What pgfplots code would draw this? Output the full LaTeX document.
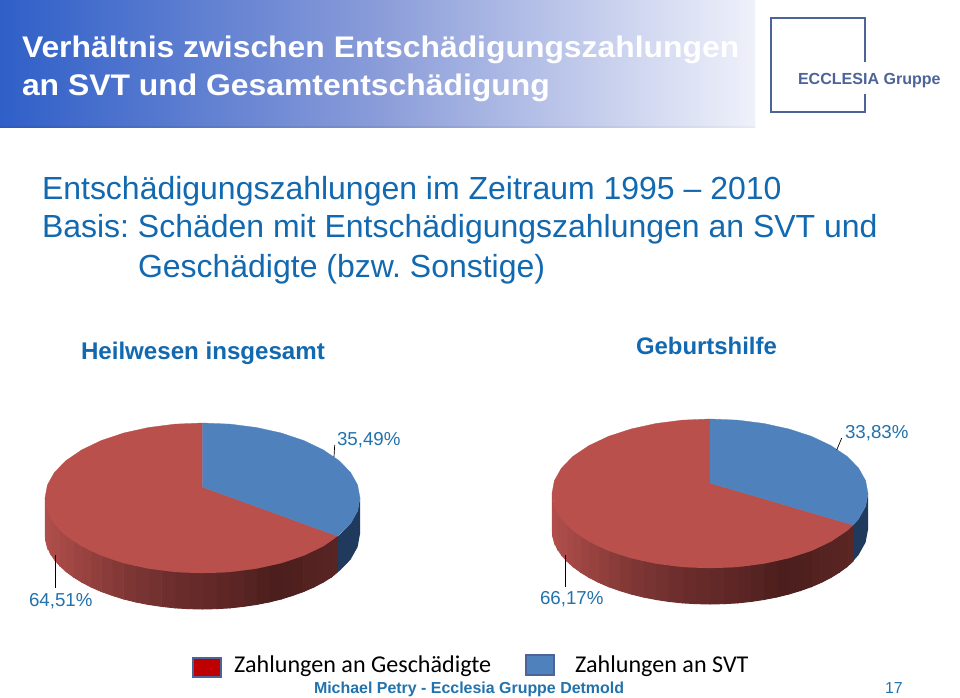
\documentclass[border=0pt]{standalone}
\usepackage{fontspec}
\setmainfont{Liberation Sans}
\newfontfamily\calibri{Carlito}
\newfontfamily\titlefont[FakeStretch=1.07]{Liberation Sans}
\usepackage{pgfplots}
\pgfplotsset{compat=1.18}
\frenchspacing

\definecolor{pieRed}{HTML}{B9504C}
\definecolor{pieBlue}{HTML}{4F81BD}
\definecolor{sideBlue}{HTML}{1F3A5C}
\definecolor{sideLight}{HTML}{B04E4B}
\definecolor{sideDark}{HTML}{4B1E1D}
\definecolor{bodyBlue}{HTML}{1269B0}
\definecolor{labelBlue}{HTML}{2272AD}
\definecolor{logoBlue}{HTML}{4D6499}
\definecolor{headLeft}{HTML}{2F5FC8}
\definecolor{headMid}{HTML}{8A9CD9}
\definecolor{headRight}{HTML}{EFF1FA}

% one vertical piece of a pie's side, 36 px deep
\newcommand{\strip}[5]{%
  \pgfmathsetmacro{\ya}{#2+36}\pgfmathsetmacro{\yb}{#4+36}%
  \addplot[fill=sideLight!#5!sideDark, draw=sideLight!#5!sideDark, line width=.9pt]
    coordinates {(#1,#2) (#3,#4) (#3,\yb) (#1,\ya)} --cycle;%
}
\newcommand{\fs}[1]{\fontsize{#1}{#1}\selectfont}

\begin{document}
\begin{tikzpicture}[every node/.style={inner sep=0pt, outer sep=0pt}]
\begin{axis}[
  width=960bp, height=697bp, scale only axis,
  xmin=0, xmax=960, ymin=0, ymax=697, y dir=reverse,
  hide axis, clip=false, no marks,
]
\addplot[fill=white, draw=none] coordinates {(0,0) (960,0) (960,697) (0,697)} --cycle;

% header band
\fill[left color=headLeft, right color=headRight, middle color=headMid]
  (axis cs:0,0) rectangle (axis cs:755,127);
\fill[left color=headLeft!93!black, right color=headRight!97!black, middle color=headMid!93!black]
  (axis cs:0,126) rectangle (axis cs:755,127.5);
\node[anchor=base west, text=white] at (axis cs:22,58)
  {\titlefont\fs{29.9}\bfseries Verhältnis zwischen Entschädigungszahlungen};
\node[anchor=base west, text=white] at (axis cs:22,96)
  {\titlefont\fs{29.9}\bfseries an SVT und Gesamtentschädigung};

% logo
\draw[logoBlue, line width=2.4pt]
  (axis cs:865,62) -- (axis cs:865,18) -- (axis cs:771,18) -- (axis cs:771,112)
  -- (axis cs:865,112) -- (axis cs:865,94);
\node[anchor=base west, text=logoBlue] at (axis cs:798,85)
  {\fs{16.1}\bfseries ECCLESIA Gruppe};

% body text
\node[anchor=base west, text=bodyBlue] at (axis cs:42,199)
  {\fs{32.1}Entschädigungszahlungen im Zeitraum 1995 – 2010};
\node[anchor=base west, text=bodyBlue] at (axis cs:42,237)
  {\fs{32.1}Basis: Schäden mit Entschädigungszahlungen an SVT und};
\node[anchor=base west, text=bodyBlue] at (axis cs:138,277)
  {\fs{32.1}Geschädigte (bzw. Sonstige)};

% pie titles
\node[anchor=base west, text=bodyBlue] at (axis cs:81,359)
  {\fs{24.2}\bfseries Heilwesen insgesamt};
\node[anchor=base west, text=bodyBlue] at (axis cs:636,354)
  {\fs{24}\bfseries Geburtshilfe};

% left pie: side
\addplot[fill=sideBlue, draw=none] coordinates {
  (360,498) (357.6,511) (350.5,523.7) (338.9,535.5) (337.5,536)
  (337.5,572) (338.9,571.5) (350.5,559.7) (357.6,547) (360,534)} --cycle;
\strip{337.5}{536}{331.5}{541}{14}
\strip{331.5}{541}{323.1}{546.2}{12}
\strip{323.1}{546.2}{313.9}{551}{10}
\strip{313.9}{551}{303.7}{555.5}{8}
\strip{303.7}{555.5}{292.8}{559.4}{5}
\strip{292.8}{559.4}{281.3}{563}{2}
\strip{281.3}{563}{269.1}{566}{1}
\strip{269.1}{566}{256.4}{568.5}{5}
\strip{256.4}{568.5}{243.3}{570.4}{10}
\strip{243.3}{570.4}{229.8}{571.9}{15}
\strip{229.8}{571.9}{216.2}{572.7}{19}
\strip{216.2}{572.7}{202.5}{573}{23}
\strip{202.5}{573}{188.8}{572.7}{27}
\strip{188.8}{572.7}{175.2}{571.9}{30}
\strip{175.2}{571.9}{161.7}{570.4}{34}
\strip{161.7}{570.4}{148.6}{568.5}{40}
\strip{148.6}{568.5}{135.9}{566}{45}
\strip{135.9}{566}{123.7}{563}{50}
\strip{123.7}{563}{112.2}{559.4}{56}
\strip{112.2}{559.4}{101.3}{555.5}{62}
\strip{101.3}{555.5}{91.1}{551}{68}
\strip{91.1}{551}{81.9}{546.2}{75}
\strip{81.9}{546.2}{73.5}{541}{80}
\strip{73.5}{541}{66.1}{535.5}{85}
\strip{66.1}{535.5}{59.8}{529.7}{90}
\strip{59.8}{529.7}{54.5}{523.7}{93}
\strip{54.5}{523.7}{50.4}{517.4}{96}
\strip{50.4}{517.4}{47.4}{511}{98}
\strip{47.4}{511}{45.6}{504.5}{100}
\strip{45.6}{504.5}{45.3}{498}{100}

% left pie: top, 64,51 / 35,49
\addplot[fill=pieRed, draw=pieRed, line width=.3pt] coordinates {
  (202.5,487) (202.5,423) (175.2,424.1) (148.6,427.5) (123.7,433) (101.3,440.5)
  (81.9,449.8) (66.1,460.5) (54.5,472.3) (47.4,485) (45,498) (47.4,511)
  (54.5,523.7) (66.1,535.5) (81.9,546.2) (101.3,555.5) (123.7,563) (148.6,568.5)
  (175.2,571.9) (202.5,573) (229.8,571.9) (256.4,568.5) (281.3,563) (303.7,555.5)
  (323.1,546.2) (337.5,536)} --cycle;
\addplot[fill=pieBlue, draw=pieBlue, line width=.3pt] coordinates {
  (202.5,487) (202.5,423) (229.8,424.1) (256.4,427.5) (281.3,433) (303.7,440.5)
  (323.1,449.8) (338.9,460.5) (350.5,472.3) (357.6,485) (360,498) (357.6,511)
  (350.5,523.7) (337.5,536)} --cycle;

% right pie: side
\addplot[fill=sideBlue, draw=none] coordinates {
  (868,493.5) (865.6,506.4) (858.5,519) (853.2,525)
  (853.2,561) (858.5,555) (865.6,542.4) (868,529.5)} --cycle;
\strip{853.2}{525}{846.8}{530.8}{16}
\strip{846.8}{530.8}{839.4}{536.2}{14}
\strip{839.4}{536.2}{831}{541.4}{12}
\strip{831}{541.4}{821.7}{546.2}{10}
\strip{821.7}{546.2}{811.6}{550.6}{8}
\strip{811.6}{550.6}{800.6}{554.5}{5}
\strip{800.6}{554.5}{789}{558}{2}
\strip{789}{558}{776.8}{561}{1}
\strip{776.8}{561}{764}{563.5}{5}
\strip{764}{563.5}{750.9}{565.5}{10}
\strip{750.9}{565.5}{737.4}{566.9}{15}
\strip{737.4}{566.9}{723.8}{567.7}{19}
\strip{723.8}{567.7}{710}{568}{23}
\strip{710}{568}{696.2}{567.7}{27}
\strip{696.2}{567.7}{682.6}{566.9}{30}
\strip{682.6}{566.9}{669.1}{565.5}{34}
\strip{669.1}{565.5}{656}{563.5}{40}
\strip{656}{563.5}{643.2}{561}{45}
\strip{643.2}{561}{631}{558}{50}
\strip{631}{558}{619.4}{554.5}{56}
\strip{619.4}{554.5}{608.4}{550.6}{62}
\strip{608.4}{550.6}{598.3}{546.2}{68}
\strip{598.3}{546.2}{589}{541.4}{75}
\strip{589}{541.4}{580.6}{536.2}{80}
\strip{580.6}{536.2}{573.2}{530.8}{85}
\strip{573.2}{530.8}{566.8}{525}{90}
\strip{566.8}{525}{561.5}{519}{93}
\strip{561.5}{519}{557.4}{512.8}{96}
\strip{557.4}{512.8}{554.4}{506.4}{98}
\strip{554.4}{506.4}{552.6}{500}{100}
\strip{552.6}{500}{552.3}{493.5}{100}

% right pie: top, 66,17 / 33,83
\addplot[fill=pieRed, draw=pieRed, line width=.3pt] coordinates {
  (710,483) (710,419) (682.6,420.1) (656,423.5) (631,429) (608.4,436.4)
  (589,445.6) (573.2,456.2) (561.5,468) (554.4,480.6) (552,493.5) (554.4,506.4)
  (561.5,519) (573.2,530.8) (589,541.4) (608.4,550.6) (631,558) (656,563.5)
  (682.6,566.9) (710,568) (737.4,566.9) (764,563.5) (789,558) (811.6,550.6)
  (831,541.4) (846.8,530.8) (853.2,525)} --cycle;
\addplot[fill=pieBlue, draw=pieBlue, line width=.3pt] coordinates {
  (710,483) (710,419) (737.4,420.1) (764,423.5) (789,429) (811.6,436.4)
  (831,445.6) (846.8,456.2) (858.5,468) (865.6,480.6) (868,493.5) (865.6,506.4)
  (858.5,519) (853.2,525)} --cycle;

% leaders and data labels
\addplot[black, line width=.7pt] coordinates {(334.7,445) (334,457)};
\addplot[black, line width=.7pt] coordinates {(841.7,438) (836.7,450)};
\addplot[black, line width=.7pt] coordinates {(55.7,555) (55.7,588)};
\addplot[black, line width=.7pt] coordinates {(565.7,555) (565.7,587)};
\node[anchor=base west, text=labelBlue] at (axis cs:337,445) {\fs{18.8}35,49\%};
\node[anchor=base west, text=labelBlue] at (axis cs:845,438) {\fs{18.8}33,83\%};
\node[anchor=base west, text=labelBlue] at (axis cs:29,606) {\fs{18.8}64,51\%};
\node[anchor=base west, text=labelBlue] at (axis cs:540,604) {\fs{18.8}66,17\%};

% legend
\addplot[fill=red!75!black, draw=logoBlue, line width=1.6pt]
  coordinates {(193,658) (221,658) (221,677) (193,677)} --cycle;
\addplot[fill=pieBlue, draw=logoBlue, line width=1.6pt]
  coordinates {(526,655) (554,655) (554,675) (526,675)} --cycle;
\node[anchor=base west, text=black] at (axis cs:234,672)
  {\calibri\fs{24.2}Zahlungen an Geschädigte};
\node[anchor=base west, text=black] at (axis cs:575,672)
  {\calibri\fs{24.2}Zahlungen an SVT};

% footer
\node[anchor=base west, text=labelBlue] at (axis cs:314,693)
  {\fs{16}\bfseries Michael Petry - Ecclesia Gruppe Detmold};
\node[anchor=base west, text=labelBlue] at (axis cs:885,693) {\fs{16}17};
\end{axis}
\end{tikzpicture}
\end{document}
